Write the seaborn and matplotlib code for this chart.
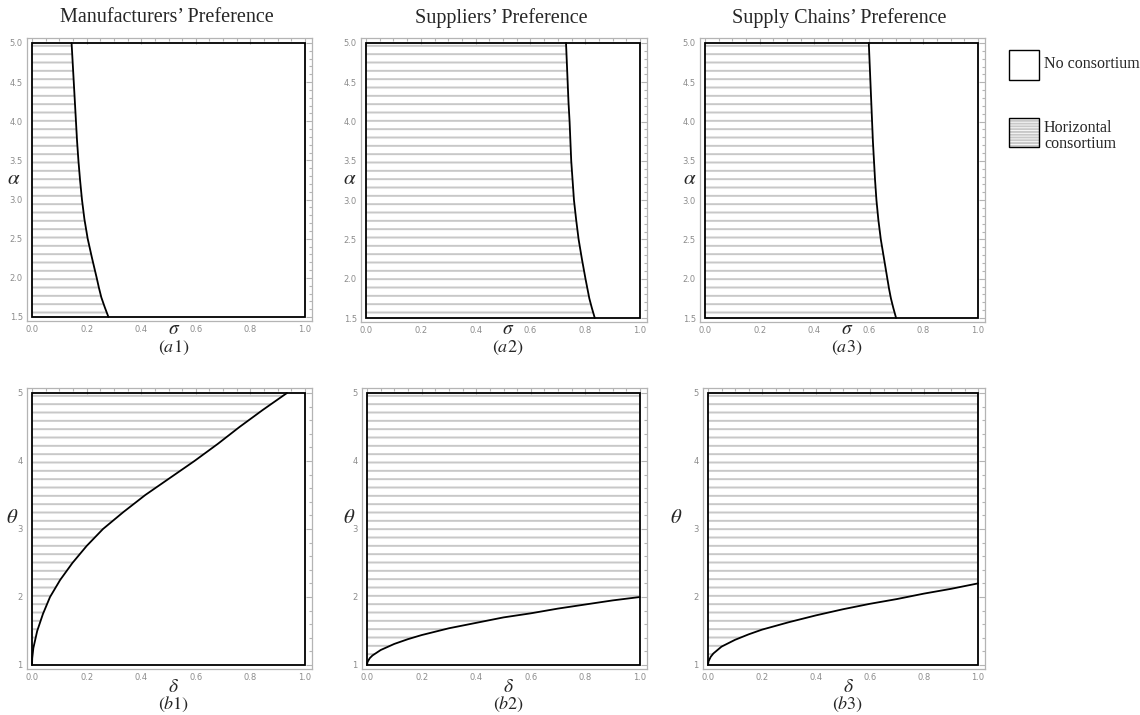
import numpy as np
import pandas as pd
import matplotlib.pyplot as plt
import seaborn as sns
from matplotlib.patches import Rectangle
from matplotlib.ticker import MultipleLocator

# boundary curves (top row: sigma as a function of alpha)
alpha_vals = [1.5, 1.625, 1.75, 1.875, 2.0, 2.25, 2.5, 2.75, 3.0, 3.25, 3.5, 3.75,
              4.0, 4.25, 4.5, 4.75, 5.0]
sigma_manuf = [0.28, 0.2665, 0.254, 0.245, 0.237, 0.22, 0.204, 0.192, 0.183, 0.176,
               0.17, 0.165, 0.161, 0.157, 0.153, 0.149, 0.145]
sigma_suppl = [0.835, 0.8245, 0.815, 0.808, 0.801, 0.788, 0.776, 0.767, 0.759, 0.754,
               0.749, 0.746, 0.743, 0.739, 0.736, 0.733, 0.73]
sigma_chain = [0.70, 0.69, 0.681, 0.674, 0.668, 0.656, 0.644, 0.635, 0.628, 0.623,
               0.619, 0.615, 0.612, 0.609, 0.606, 0.603, 0.60]

# bottom row: theta as a function of delta
theta_b1 = [1.0, 1.1, 1.25, 1.5, 1.75, 2.0, 2.25, 2.5, 2.75, 3.0, 3.25, 3.5, 3.75,
            4.0, 4.25, 4.5, 4.75, 5.0]
delta_b1 = [0.0, 0.0008, 0.005, 0.019, 0.04, 0.066, 0.103, 0.148, 0.2, 0.26, 0.335,
            0.415, 0.505, 0.595, 0.68, 0.76, 0.845, 0.934]
delta_vals = [0.0, 0.002, 0.01, 0.02, 0.05, 0.1, 0.15, 0.2, 0.3, 0.4, 0.5, 0.6, 0.7,
              0.8, 0.9, 1.0]
theta_b2 = [1.0, 1.045, 1.1, 1.14, 1.22, 1.31, 1.38, 1.44, 1.54, 1.62, 1.7, 1.76,
            1.83, 1.89, 1.95, 2.0]
theta_b3 = [1.0, 1.054, 1.12, 1.17, 1.27, 1.37, 1.45, 1.52, 1.63, 1.73, 1.82, 1.9,
            1.97, 2.05, 2.12, 2.2]

titles = ["Manufacturers’ Preference", "Suppliers’ Preference", "Supply Chains’ Preference"]
sub_top = ["$(a1)$", "$(a2)$", "$(a3)$"]
sub_bot = ["$(b1)$", "$(b2)$", "$(b3)$"]
legend_labels = ["No consortium", "Horizontal\nconsortium"]

sns.set_style("white")
plt.rcParams['font.family'] = ['DejaVu Sans']
plt.rcParams['mathtext.fontset'] = 'stix'
plt.rcParams['hatch.linewidth'] = 1.4

W, H = 1140, 715
fig = plt.figure(figsize=(W / 100, H / 100), dpi=100)
HATCH_C = '#c8c8c8'
FRAME_C = '#b4b4b4'
TICK_C = '#8c8c8c'


def make_axes(box, xlim, ylim, ymaj, ymin):
    l, r, t, b = box
    sx = (r - l) / (xlim[1] - xlim[0])
    sy = (b - t) / (ylim[1] - ylim[0])
    ax = fig.add_axes([(l - 5) / W, 1 - (b + 4) / H, (r - l + 12) / W, (b - t + 9) / H])
    ax.set_xlim(xlim[0] - 5 / sx, xlim[1] + 7 / sx)
    ax.set_ylim(ylim[0] - 4 / sy, ylim[1] + 5 / sy)
    ax.xaxis.set_major_locator(MultipleLocator(0.2))
    ax.xaxis.set_minor_locator(MultipleLocator(0.05))
    ax.yaxis.set_major_locator(MultipleLocator(ymaj))
    ax.yaxis.set_minor_locator(MultipleLocator(ymin))
    ax.tick_params(which='both', direction='in', top=True, right=True,
                   color=FRAME_C, labelcolor=TICK_C, labelsize=6, width=0.8, pad=3)
    ax.tick_params(which='major', length=4)
    ax.tick_params(which='minor', length=2)
    for s in ax.spines.values():
        s.set_color(FRAME_C)
        s.set_linewidth(0.9)
    ax.add_patch(Rectangle((xlim[0], ylim[0]), xlim[1] - xlim[0], ylim[1] - ylim[0],
                           fill=False, ec='black', lw=1.3, zorder=4))
    return ax


def ftext(x, y, s, **kw):
    fig.text(x / W, 1 - y / H, s, **kw)


# ---------- top row ----------
top_boxes = [(32, 305, 43, 317), (366, 640, 43, 318), (705, 978, 43, 318)]
top_curves = [sigma_manuf, sigma_suppl, sigma_chain]
alpha_x = [14, 350, 690]
for i, (box, sig) in enumerate(zip(top_boxes, top_curves)):
    ax = make_axes(box, (0, 1), (1.5, 5.0), 0.5, 0.1)
    ax.yaxis.set_major_formatter(plt.FormatStrFormatter('%.1f'))
    ax.fill_betweenx(alpha_vals, 0, sig, facecolor='none', edgecolor=HATCH_C,
                     hatch='--', linewidth=0, zorder=1)
    df = pd.DataFrame({'sigma': sig, 'alpha': alpha_vals})
    sns.lineplot(data=df, x='sigma', y='alpha', sort=False, estimator=None,
                 color='black', lw=1.3, ax=ax, zorder=5)
    ax.set_xlabel('')
    ax.set_ylabel('')
    l, r, t, b = box
    cx = (l + r) / 2
    ftext(cx - 2, 18, titles[i], family='Liberation Serif', fontsize=14.5,
          ha='center', va='center')
    ftext(l + 0.52 * (r - l), 328, r'$\sigma$', fontsize=14, ha='center', va='center')
    ftext(cx + 5, 348, sub_top[i], fontsize=13, ha='center', va='center')
    ftext(alpha_x[i], 178, r'$\alpha$', fontsize=15, ha='center', va='center')

# ---------- bottom row ----------
bot_boxes = [(32, 305, 393, 665), (367, 640, 393, 665), (708, 978, 393, 665)]
theta_x = [12, 349, 676]
for i, box in enumerate(bot_boxes):
    ax = make_axes(box, (0, 1), (1, 5), 1, 0.2)
    ax.yaxis.set_major_formatter(plt.FormatStrFormatter('%d'))
    if i == 0:
        ax.fill_betweenx(theta_b1, 0, delta_b1, facecolor='none', edgecolor=HATCH_C,
                         hatch='--', linewidth=0, zorder=1)
        df = pd.DataFrame({'delta': delta_b1, 'theta': theta_b1})
    else:
        th = theta_b2 if i == 1 else theta_b3
        ax.fill_between(delta_vals, th, 5, facecolor='none', edgecolor=HATCH_C,
                        hatch='--', linewidth=0, zorder=1)
        df = pd.DataFrame({'delta': delta_vals, 'theta': th})
    sns.lineplot(data=df, x='delta', y='theta', sort=False, estimator=None,
                 color='black', lw=1.3, ax=ax, zorder=5)
    ax.set_xlabel('')
    ax.set_ylabel('')
    l, r, t, b = box
    cx = (l + r) / 2
    ftext(l + 0.52 * (r - l), 686, r'$\delta$', fontsize=14, ha='center', va='center')
    ftext(cx + 5, 704, sub_bot[i], fontsize=13, ha='center', va='center')
    ftext(theta_x[i], 517, r'$\theta$', fontsize=15, ha='center', va='center')

# ---------- legend ----------
lax = fig.add_axes([0, 0, 1, 1], facecolor='none')
lax.set_xlim(0, W)
lax.set_ylim(H, 0)
lax.axis('off')
lax.add_patch(Rectangle((1009, 50), 30, 30, fill=False, ec='black', lw=1.0))
lax.add_patch(Rectangle((1009, 118), 30, 29, facecolor='white', edgecolor=HATCH_C,
                        hatch='------', lw=0))
lax.add_patch(Rectangle((1009, 118), 30, 29, fill=False, ec='black', lw=1.0))
lax.text(1044, 64, legend_labels[0], family='Liberation Serif', fontsize=11.5, va='center')
lax.text(1044, 136, legend_labels[1], family='Liberation Serif', fontsize=11.5,
         va='center', linespacing=1.0)

fig.savefig("out.png", dpi=100)
